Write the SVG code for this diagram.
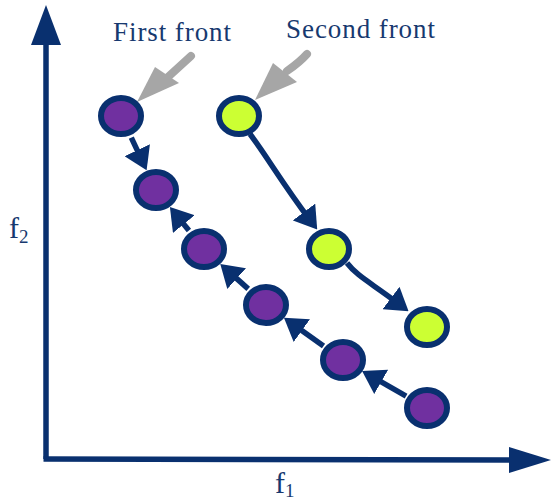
<svg xmlns="http://www.w3.org/2000/svg" width="551" height="500" viewBox="0 0 551 500">
<style>
.ax{stroke:#09306f;stroke-width:5.5;fill:none}
.ah{fill:#09306f}
.node{stroke:#09306f;stroke-width:6}
.p{fill:#7030a0}
.g{fill:#ccff33}
.c{stroke:#09306f;stroke-width:5.5;fill:none;marker-end:url(#arr)}
.gray{stroke:#a6a6a6;stroke-width:8;fill:none;stroke-linecap:round}
.gh{fill:#a6a6a6}
.lbl{font-family:"Liberation Serif","Times New Roman",serif;fill:#17396f}
</style>
<defs>
<marker id="arr" markerUnits="userSpaceOnUse" viewBox="0 0 22 28" markerWidth="22" markerHeight="28" refX="10" refY="14" orient="auto">
<path d="M0,0 L22,14 L0,28 z" fill="#09306f"/>
</marker>
</defs>
<g id="axes">
<line class="ax" x1="46" y1="459" x2="46" y2="40"/>
<polygon class="ah" points="31,45 61,45 46,5"/>
<line class="ax" x1="43.5" y1="459" x2="515" y2="460"/>
<polygon class="ah" points="509,447 509,473 551,460"/>
<text class="lbl" x="9" y="238" font-size="30">f<tspan font-size="19" dy="5">2</tspan></text>
<text class="lbl" x="275" y="493" font-size="30">f<tspan font-size="19" dy="4">1</tspan></text>
</g>
<g id="labels">
<text class="lbl" x="113" y="41" font-size="27" textLength="118">First front</text>
<text class="lbl" x="286" y="38" font-size="27" textLength="149">Second front</text>
<path class="gray" d="M191,56 L168,77"/>
<polygon class="gh" points="155,67 179,83 137,102"/>
<path class="gray" d="M307,54 Q300,62 287,71"/>
<polygon class="gh" points="273,63 297,82 255,100"/>
</g>
<g id="connectors">
<line class="c" x1="131.3" y1="137.7" x2="141.5" y2="159.3"/>
<line class="c" x1="188.9" y1="230.4" x2="177.5" y2="216.4"/>
<line class="c" x1="248.2" y1="288.9" x2="229.2" y2="271.9"/>
<line class="c" x1="323.5" y1="346.1" x2="293.7" y2="324.8"/>
<line class="c" x1="406.1" y1="396.1" x2="372.5" y2="376.9"/>
<path class="c" d="M250,134 C268,158 280,180 310,220"/>
<path class="c" d="M347,263 C358,277 370,282 399,304"/>
</g>
<g id="p1"><ellipse class="node p" cx="121" cy="116" rx="20" ry="18"/></g>
<g id="p2"><ellipse class="node p" cx="156" cy="190" rx="20" ry="18"/></g>
<g id="p3"><ellipse class="node p" cx="204" cy="249" rx="20" ry="18"/></g>
<g id="p4"><ellipse class="node p" cx="266" cy="305" rx="20" ry="18"/></g>
<g id="p5"><ellipse class="node p" cx="343" cy="360" rx="20" ry="18"/></g>
<g id="p6"><ellipse class="node p" cx="427" cy="408" rx="20" ry="18"/></g>
<g id="g1"><ellipse class="node g" cx="239" cy="116" rx="20" ry="18"/></g>
<g id="g2"><ellipse class="node g" cx="329" cy="249" rx="20" ry="18"/></g>
<g id="g3"><ellipse class="node g" cx="427" cy="327" rx="20" ry="18"/></g>
</svg>
